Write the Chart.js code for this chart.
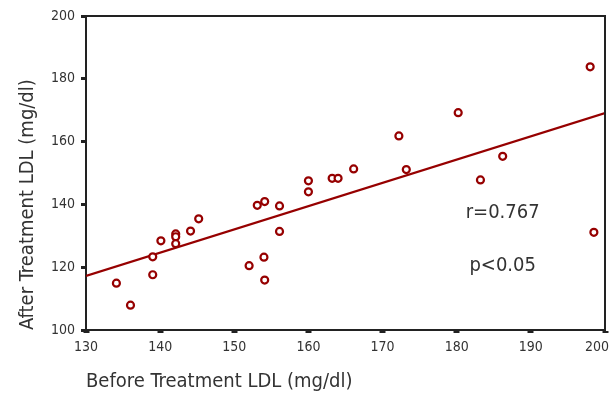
<!DOCTYPE html>
<html><head><meta charset="utf-8">
<script src="https://cdn.jsdelivr.net/npm/chart.js@4/dist/chart.umd.min.js"></script>
<style>html,body{margin:0;padding:0;background:#fff;}#wrap{width:612px;height:400px;position:relative;}</style>
</head><body><div id="wrap"><canvas id="c" width="612" height="400"></canvas></div>
<script>
// Before / after treatment LDL (mg/dl)
const beforeLDL = [134.1,136.0,139.0,139.0,140.1,142.1,142.1,142.1,144.1,145.2,152.0,153.1,154.1,154.0,154.1,156.1,156.1,160.0,160.0,163.2,164.0,166.1,172.2,173.2,180.2,183.2,186.2,198.5,198.0];
const afterLDL  = [114.9,107.9,123.3,117.6,128.4,130.6,129.7,127.5,131.5,135.4,120.5,139.7,140.9,123.2,115.9,139.5,131.4,147.5,144.0,148.3,148.3,151.3,161.8,151.1,169.2,147.8,155.3,131.1,183.8];
// regression line end points
const fitX = [130, 200];
const fitY = [117.2, 169.1];
// tick labels
const xTicks = [130,140,150,160,170,180,190,200];
const yTicks = [100,120,140,160,180,200];
// annotations
const noteText = ['r=0.767', 'p<0.05'];
const noteX = [186.2, 186.2];
const noteY = [137.4, 120.4];

const FONT = "'Liberation Sans Narrow', 'Arial Narrow', 'DejaVu Sans Condensed', sans-serif";
const TXT = '#333333';
const RED = '#960000';

const pts = beforeLDL.map((x, i) => ({x, y: afterLDL[i]}));
const fit = fitX.map((x, i) => ({x, y: fitY[i]}));

const framePlugin = {
  id: 'frame',
  beforeDraw(chart) {
    const xs = chart.scales.x;
    const items = xs.getLabelItems();
    const last = items[items.length - 1];
    if (last && last.options && last.options.translation) {
      last.options.textAlign = 'right';
      last.options.translation[0] = xs.right + 4;
    }
  },
  afterDraw(chart) {
    const {ctx, chartArea: a, scales} = chart;
    ctx.save();
    ctx.strokeStyle = '#222';
    ctx.lineWidth = 2;
    ctx.beginPath();
    ctx.moveTo(a.left, a.top); ctx.lineTo(a.right, a.top); ctx.lineTo(a.right, a.bottom);
    ctx.stroke();
    ctx.fillStyle = TXT;
    ctx.font = "20px " + FONT;
    ctx.textAlign = 'center';
    ctx.textBaseline = 'middle';
    noteText.forEach((t, i) => {
      ctx.fillText(t, scales.x.getPixelForValue(noteX[i]), scales.y.getPixelForValue(noteY[i]));
    });
    ctx.restore();
  }
};

new Chart(document.getElementById('c'), {
  data: {
    datasets: [
      {type: 'scatter', data: pts, pointRadius: 3.5, pointHoverRadius: 3.5, borderWidth: 2.2,
       borderColor: RED, backgroundColor: '#ffffff', pointStyle: 'circle'},
      {type: 'line', data: fit, borderColor: RED, borderWidth: 2.2, pointRadius: 0, fill: false, tension: 0}
    ]
  },
  options: {
    responsive: false,
    animation: false,
    events: [],
    layout: {padding: {top: 16, right: 7, left: 0, bottom: 0}},
    plugins: {legend: {display: false}, tooltip: {enabled: false}, title: {display: false}},
    scales: {
      x: {
        type: 'linear', min: 130, max: 200,
        afterBuildTicks: s => { s.ticks = xTicks.map(v => ({value: v})); },
        afterFit: s => { s.height = 70; s.paddingLeft = 0; s.paddingRight = 0; },
        border: {display: true, color: '#222', width: 2},
        grid: {drawOnChartArea: false, drawTicks: true, tickLength: 3, tickWidth: 6, tickColor: '#222'},
        ticks: {color: TXT, font: {family: FONT, size: 14}, padding: 6, maxRotation: 0, autoSkip: false},
        title: {display: true, text: 'Before Treatment LDL (mg/dl)', align: 'start', color: TXT,
                font: {family: FONT, size: 20}, padding: {top: 0, bottom: 6}}
      },
      y: {
        type: 'linear', min: 100, max: 200,
        afterBuildTicks: s => { s.ticks = yTicks.map(v => ({value: v})); },
        afterFit: s => { s.width = 86; s.paddingTop = 0; s.paddingBottom = 0; },
        border: {display: true, color: '#222', width: 2},
        grid: {drawOnChartArea: false, drawTicks: true, tickLength: 5, tickWidth: 3, tickColor: '#222'},
        ticks: {color: TXT, font: {family: FONT, size: 14}, padding: 6, autoSkip: false},
        title: {display: true, text: 'After Treatment LDL (mg/dl)', align: 'start', color: TXT,
                font: {family: FONT, size: 20}, padding: {top: 16, bottom: 0}}
      }
    }
  },
  plugins: [framePlugin]
});
</script>
</body></html>
